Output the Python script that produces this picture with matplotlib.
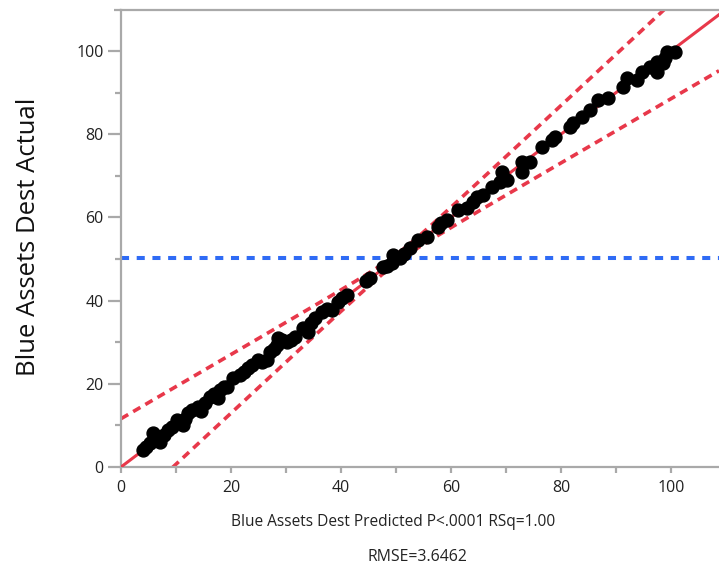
import numpy as np
import matplotlib
matplotlib.use("Agg")
import matplotlib.pyplot as plt
from matplotlib.lines import Line2D

# Actual vs. predicted values
predicted = [4.0, 4.6, 5.3, 5.8, 6.4, 7.1, 7.8, 8.5, 9.3, 10.2, 11.3, 11.6, 12.2, 12.9,
             14.0, 14.5, 15.3, 16.2, 17.0, 17.6, 18.0, 18.7, 19.3, 20.4, 21.6, 22.4,
             23.1, 23.9, 24.9, 25.6, 26.5, 27.1, 27.8, 28.4, 28.5, 29.2, 30.2, 30.9,
             31.6, 33.1, 34.0, 34.6, 35.3, 36.5, 37.4, 38.4, 39.5, 40.2, 41.1, 44.5,
             45.3, 47.6, 48.3, 49.3, 49.5, 50.7, 51.5, 52.5, 54.0, 55.6, 57.6, 58.2,
             59.3, 61.3, 62.9, 64.0, 64.7, 65.8, 67.5, 68.9, 69.3, 70.2, 72.9, 72.9,
             74.4, 76.5, 78.4, 78.9, 81.6, 82.2, 83.8, 85.3, 86.7, 88.5, 91.3, 92.0,
             93.8, 94.7, 96.2, 97.5, 97.5, 98.5, 98.9, 99.3, 100.7]
actual = [4.1, 4.8, 5.8, 8.2, 7.4, 6.0, 7.6, 8.9, 9.7, 11.3, 10.1, 11.6, 13.0, 13.6,
          14.4, 13.4, 15.4, 16.8, 17.5, 16.6, 18.5, 19.3, 19.2, 21.4, 22.1, 22.8,
          23.8, 24.6, 25.7, 25.2, 25.7, 27.6, 28.4, 29.3, 31.0, 30.6, 30.0, 30.5,
          31.2, 33.4, 32.5, 34.5, 35.8, 37.3, 37.9, 37.7, 39.7, 40.6, 41.3, 44.6,
          45.4, 48.1, 48.4, 49.0, 51.0, 50.2, 51.2, 52.6, 54.6, 55.3, 57.7, 58.6,
          59.4, 61.8, 62.3, 63.8, 64.9, 65.4, 67.3, 68.5, 70.9, 69.0, 73.3, 70.9,
          73.3, 76.9, 78.6, 79.3, 81.7, 82.7, 84.1, 85.8, 88.2, 88.7, 91.3, 93.5,
          93.0, 95.0, 96.2, 97.4, 95.0, 97.1, 98.3, 99.8, 99.8]

# Fit line, mean of response and confidence-curve parameters
fit_intercept = 0.0
fit_slope = 1.0
mean_actual = 50.2
mean_predicted = 50.3
band_at_mean = 1.0
band_growth = 0.23

x_ticks = [0, 20, 40, 60, 80, 100]
y_ticks = [0, 20, 40, 60, 80, 100]
x_label = "Blue Assets Dest Predicted P<.0001 RSq=1.00"
y_label = "Blue Assets Dest Actual"
rmse_text = "RMSE=3.6462"

RED = "#E8384A"
BLUE = "#2F6BF5"
GRAY = "#A9A9A9"
FONT = ["Open Sans", "DejaVu Sans"]

fig = plt.figure(figsize=(7.19, 5.71), dpi=100)
ax = fig.add_axes([121 / 719, 1 - 467 / 571, 1 - 121 / 719, (467 - 10) / 571])
ax.set_xlim(0, 108.73)
ax.set_ylim(0, 109.86)

xs = np.linspace(0, 108.73, 400)
fit = fit_intercept + fit_slope * xs
half = np.sqrt(band_at_mean ** 2 + (band_growth * (xs - mean_predicted)) ** 2)

ax.axhline(mean_actual, color=BLUE, lw=2.9, ls=(0, (2.0, 1.9)), zorder=2)
ax.plot(xs, fit + half, color=RED, lw=2.6, ls=(0, (2.3, 1.6)), zorder=2)
ax.plot(xs, fit - half, color=RED, lw=2.6, ls=(0, (2.3, 1.6)), zorder=2)
ax.plot(xs, fit, color=RED, lw=2.2, zorder=3)
ax.plot(predicted, actual, "o", color="black", ms=9.3, mec="black", zorder=4)

ax.spines["right"].set_visible(False)
for side in ("left", "bottom", "top"):
    ax.spines[side].set_color(GRAY)
    ax.spines[side].set_linewidth(1.6)

# small extension of the top frame to the left of the y axis
ax.add_line(Line2D([-0.011, 0], [1, 1], transform=ax.transAxes, color=GRAY,
                   lw=1.6, clip_on=False, solid_capstyle="butt"))

ax.set_xticks(x_ticks)
ax.set_yticks(y_ticks)
ax.set_xticks([10, 30, 50, 70, 90], minor=True)
ax.set_yticks([10, 30, 50, 70, 90], minor=True)
ax.tick_params(axis="x", which="both", length=4.5, width=1.6, color=GRAY, pad=4.5)
ax.tick_params(axis="y", which="major", length=9.4, width=1.6, color=GRAY, pad=3.2)
ax.tick_params(axis="y", which="minor", length=4.5, width=1.6, color=GRAY)
for lab in ax.get_xticklabels() + ax.get_yticklabels():
    lab.set_fontfamily(FONT)
    lab.set_fontsize(11.5)
    lab.set_color("#222222")

fig.text(393 / 719, 1 - 522 / 571, x_label, ha="center", va="center",
         fontsize=11.2, family=FONT, color="#222222")
fig.text(417 / 719, 1 - 557 / 571, rmse_text, ha="center", va="center",
         fontsize=11.4, family=FONT, color="#222222")
fig.text(35 / 719, 1 - 236.5 / 571, y_label, ha="center", va="baseline",
         rotation=90, rotation_mode="anchor",
         fontsize=18.5, family=FONT, color="#111111")

fig.savefig("out.png", dpi=100)
